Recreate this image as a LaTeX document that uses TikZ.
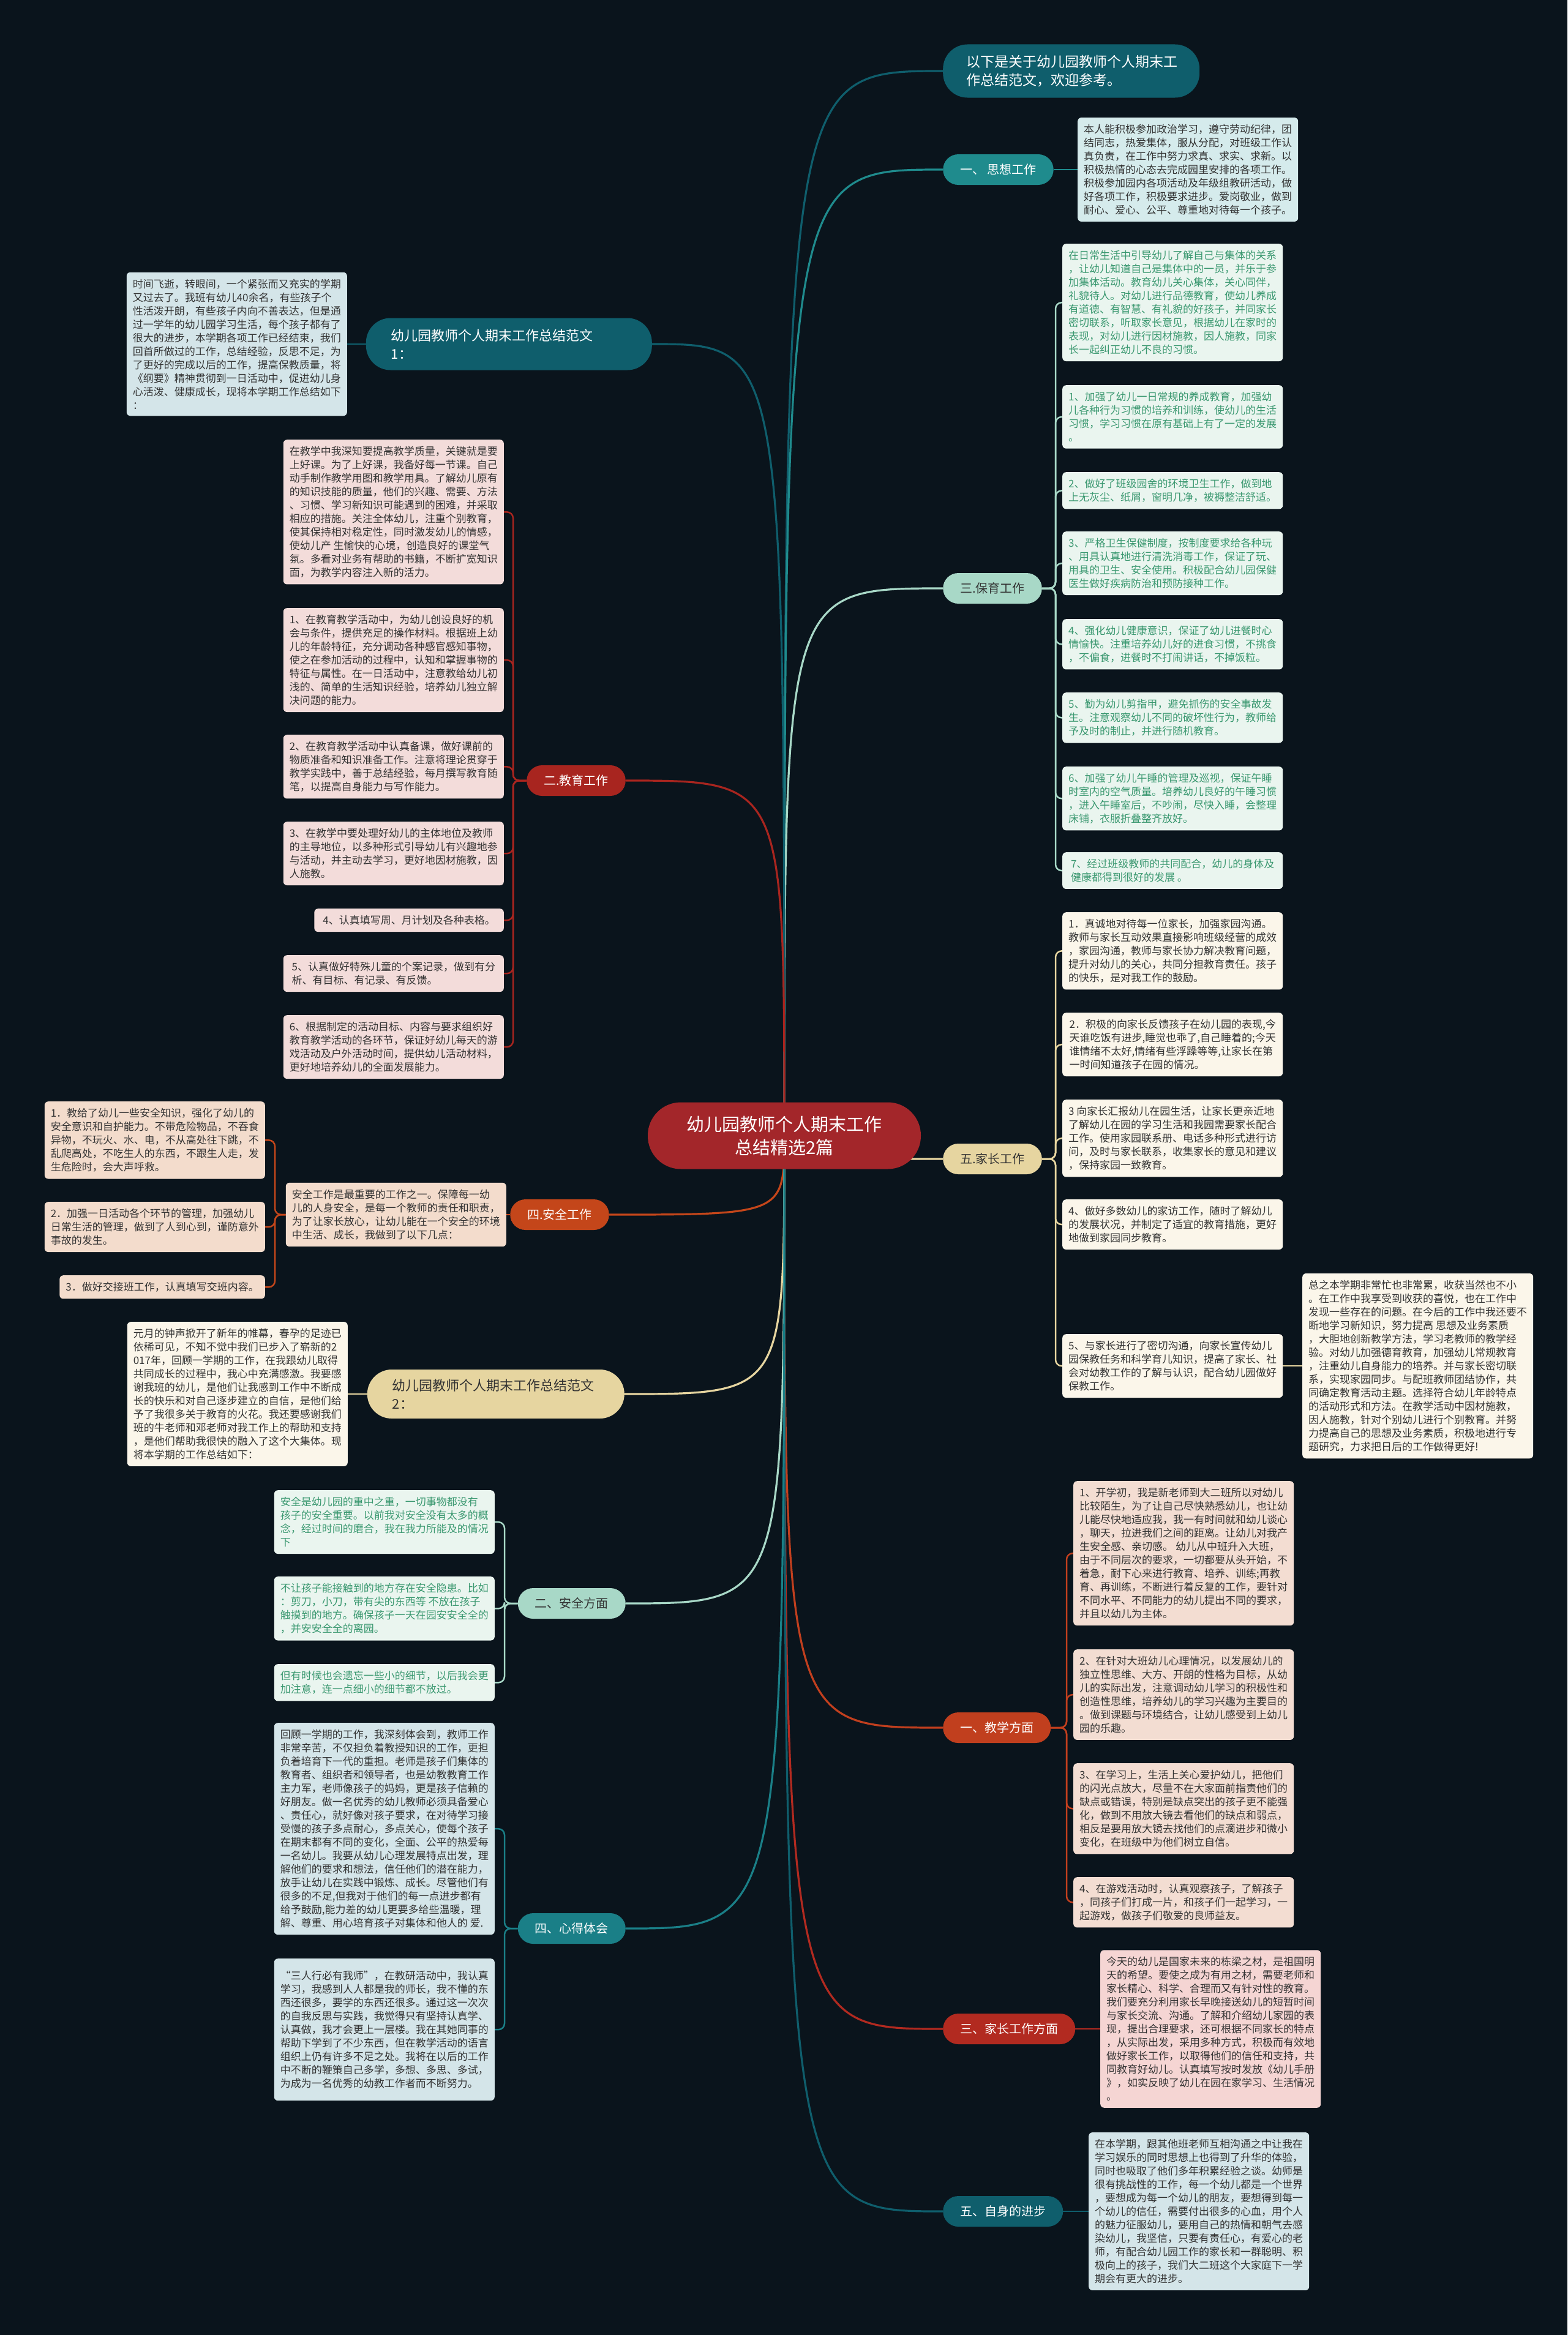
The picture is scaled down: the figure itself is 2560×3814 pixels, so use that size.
\documentclass[tikz,border=0pt]{standalone}
\usepackage{fontspec}
\setmainfont{Noto Sans CJK SC}
\definecolor{bgc}{HTML}{0A141C}
\definecolor{cRoot}{HTML}{A3262A}
\definecolor{cHead}{HTML}{0F5E6C}
\definecolor{cSx}{HTML}{1F8B8D}
\definecolor{cMint}{HTML}{A8D8C7}
\definecolor{cKhaki}{HTML}{E6D5A0}
\definecolor{cJx}{HTML}{C13F1E}
\definecolor{cJzf}{HTML}{B22A20}
\definecolor{cJy}{HTML}{A8251F}
\definecolor{cAq}{HTML}{C4461A}
\definecolor{cXd}{HTML}{1A7F87}
\definecolor{fSx}{HTML}{D5EBEC}
\definecolor{fBao}{HTML}{EAF5EF}
\definecolor{tBao}{HTML}{3A9870}
\definecolor{fCream}{HTML}{FBF6EA}
\definecolor{fPeach}{HTML}{F3DDD2}
\definecolor{fPink}{HTML}{F5D5D3}
\definecolor{fBlue}{HTML}{D4E5E9}
\definecolor{fRose}{HTML}{F3DCDA}
\definecolor{fSand}{HTML}{F3DCCC}
\definecolor{tDark}{HTML}{333333}
\pgfdeclarelayer{back}
\pgfdeclarelayer{lines}
\pgfsetlayers{back,lines,main}
\tikzset{
  leaf/.style={rounded corners=6, align=left, inner xsep=10, inner ysep=11,
    font=\fontsize{17}{22}\selectfont, text=tDark},
  full/.style={minimum width=360},
  branch/.style={rounded corners=25, minimum height=50, inner xsep=28,
    font=\fontsize{20}{24}\selectfont},
  bigpill/.style={rounded corners=40, align=left, inner xsep=40,
    font=\fontsize{22}{30}\selectfont},
  mainline/.style={line width=3.2},
  subline/.style={line width=2.5, rounded corners=10},
}
\begin{document}
\begin{tikzpicture}[x=1pt,y=-1pt]
\begin{pgfonlayer}{back}
\fill[bgc] (0,0) rectangle (2560,3814);
\end{pgfonlayer}
\useasboundingbox (0,0) rectangle (2560,3814);

% ---------- root ----------
\node[fill=cRoot, text=white, rounded corners=54, minimum width=446, minimum height=109,
  align=center, font=\fontsize{29}{38}\selectfont] (root) at (1281,1855)
  {幼儿园教师个人期末工作\\总结精选2篇};

% ---------- right branches ----------
\node[bigpill, fill=cHead, text=white, anchor=west, minimum height=87, text width=343,
  font=\fontsize{23}{30}\selectfont, inner xsep=38] (head) at (1540,116)
  {以下是关于幼儿园教师个人期末工\\作总结范文，欢迎参考。};
\node[branch, fill=cSx, text=white, anchor=west] (sx) at (1540,277) {一、 思想工作};
\node[branch, fill=cMint, text=tDark, anchor=west] (bao) at (1540,961) {三.保育工作};
\node[branch, fill=cKhaki, text=tDark, anchor=west] (jia) at (1540,1893) {五.家长工作};
\node[branch, fill=cJx, text=white, anchor=west] (jx) at (1540,2822) {一、教学方面};
\node[branch, fill=cJzf, text=white, anchor=west] (jzf) at (1540,3314) {三、家长工作方面};
\node[branch, fill=cHead, text=white, anchor=west] (zs) at (1540,3612) {五、自身的进步};

% ---------- left branches ----------
\node[bigpill, fill=cHead, text=white, anchor=east, minimum height=85, text width=385, inner xsep=41] (f1) at (1065,562)
  {幼儿园教师个人期末工作总结范文\\1：};
\node[branch, fill=cJy, text=white, anchor=east] (jy) at (1022,1275) {二.教育工作};
\node[branch, fill=cAq, text=white, anchor=east] (aq) at (995,1984) {四.安全工作};
\node[bigpill, fill=cKhaki, text=tDark, anchor=east, minimum height=80, text width=338, inner xsep=41] (f2) at (1020,2277)
  {幼儿园教师个人期末工作总结范文\\2：};
\node[branch, fill=cMint, text=tDark, anchor=east] (aqf) at (1022,2619) {二、安全方面};
\node[branch, fill=cXd, text=white, anchor=east] (xd) at (1022,3150) {四、心得体会};

% ---------- 思想工作 ----------
\node[leaf, full, fill=fSx, anchor=west] (sxb) at (1760,277)
{本人能积极参加政治学习，遵守劳动纪律，团\\结同志，热爱集体，服从分配，对班级工作认\\真负责，在工作中努力求真、求实、求新。以\\积极热情的心态去完成园里安排的各项工作。\\积极参加园内各项活动及年级组教研活动，做\\好各项工作，积极要求进步。爱岗敬业，做到\\耐心、爱心、公平、尊重地对待每一个孩子。};

% ---------- 保育工作 ----------
\tikzset{baoleaf/.style={leaf, full, fill=fBao, text=tBao, anchor=north west}}
\node[baoleaf] (b0) at (1735,398)
{在日常生活中引导幼儿了解自己与集体的关系\\，让幼儿知道自己是集体中的一员，并乐于参\\加集体活动。教育幼儿关心集体，关心同伴，\\礼貌待人。对幼儿进行品德教育，使幼儿养成\\有道德、有智慧、有礼貌的好孩子，并同家长\\密切联系，听取家长意见，根据幼儿在家时的\\表现，对幼儿进行因材施教，因人施教，同家\\长一起纠正幼儿不良的习惯。};
\node[baoleaf] (b1) at (1735,629)
{1、加强了幼儿一日常规的养成教育，加强幼\\儿各种行为习惯的培养和训练，使幼儿的生活\\习惯，学习习惯在原有基础上有了一定的发展\\。};
\node[baoleaf] (b2) at (1735,771)
{2、做好了班级园舍的环境卫生工作，做到地\\上无灰尘、纸屑，窗明几净，被褥整洁舒适。};
\node[baoleaf] (b3) at (1735,868)
{3、严格卫生保健制度，按制度要求给各种玩\\、用具认真地进行清洗消毒工作，保证了玩、\\用具的卫生、安全使用。积极配合幼儿园保健\\医生做好疾病防治和预防接种工作。};
\node[baoleaf] (b4) at (1735,1011)
{4、强化幼儿健康意识，保证了幼儿进餐时心\\情愉快。注重培养幼儿好的进食习惯，不挑食\\，不偏食，进餐时不打闹讲话，不掉饭粒。};
\node[baoleaf] (b5) at (1735,1131)
{5、勤为幼儿剪指甲，避免抓伤的安全事故发\\生。注意观察幼儿不同的破坏性行为，教师给\\予及时的制止，并进行随机教育。};
\node[baoleaf] (b6) at (1735,1252)
{6、加强了幼儿午睡的管理及巡视，保证午睡\\时室内的空气质量。培养幼儿良好的午睡习惯\\，进入午睡室后，不吵闹，尽快入睡，会整理\\床铺，衣服折叠整齐放好。};
\node[baoleaf] (b7) at (1735,1392)
{7、经过班级教师的共同配合，幼儿的身体及\\健康都得到很好的发展 。};

% ---------- 家长工作 ----------
\tikzset{jialeaf/.style={leaf, full, fill=fCream, anchor=north west}}
\node[jialeaf] (j1) at (1735,1490)
{1．真诚地对待每一位家长，加强家园沟通。\\教师与家长互动效果直接影响班级经营的成效\\，家园沟通，教师与家长协力解决教育问题，\\提升对幼儿的关心，共同分担教育责任。孩子\\的快乐，是对我工作的鼓励。};
\node[jialeaf] (j2) at (1735,1654)
{2．积极的向家长反馈孩子在幼儿园的表现,今\\天谁吃饭有进步,睡觉也乖了,自己睡着的;今天\\谁情绪不太好,情绪有些浮躁等等,让家长在第\\一时间知道孩子在园的情况。};
\node[jialeaf] (j3) at (1735,1796)
{3 向家长汇报幼儿在园生活，让家长更亲近地\\了解幼儿在园的学习生活和我园需要家长配合\\工作。使用家园联系册、电话多种形式进行访\\问，及时与家长联系，收集家长的意见和建议\\，保持家园一致教育。};
\node[jialeaf] (j4) at (1735,1959)
{4、做好多数幼儿的家访工作，随时了解幼儿\\的发展状况，并制定了适宜的教育措施，更好\\地做到家园同步教育。};
\node[jialeaf] (j5) at (1735,2179)
{5、与家长进行了密切沟通，向家长宣传幼儿\\园保教任务和科学育儿知识，提高了家长、社\\会对幼教工作的了解与认识，配合幼儿园做好\\保教工作。};
\coordinate (zx) at (2127,0);
\node[leaf, full, fill=fCream, anchor=west] (zz) at (j5.east -| zx)
{总之本学期非常忙也非常累，收获当然也不小\\。在工作中我享受到收获的喜悦，也在工作中\\发现一些存在的问题。在今后的工作中我还要不\\断地学习新知识，努力提高 思想及业务素质\\，大胆地创新教学方法，学习老教师的教学经\\验。对幼儿加强德育教育，加强幼儿常规教育\\，注重幼儿自身能力的培养。并与家长密切联\\系，实现家园同步。与配班教师团结协作，共\\同确定教育活动主题。选择符合幼儿年龄特点\\的活动形式和方法。在教学活动中因材施教，\\因人施教，针对个别幼儿进行个别教育。并努\\力提高自己的思想及业务素质，积极地进行专\\题研究，力求把日后的工作做得更好!};

% ---------- 教学方面 ----------
\tikzset{jxleaf/.style={leaf, full, fill=fPeach, anchor=north west}}
\node[jxleaf] (x1) at (1753,2419)
{1、开学初，我是新老师到大二班所以对幼儿\\比较陌生，为了让自己尽快熟悉幼儿，也让幼\\儿能尽快地适应我，我一有时间就和幼儿谈心\\，聊天，拉进我们之间的距离。让幼儿对我产\\生安全感、亲切感。 幼儿从中班升入大班，\\由于不同层次的要求，一切都要从头开始，不\\着急，耐下心来进行教育、培养、训练;再教\\育、再训练，不断进行着反复的工作，要针对\\不同水平、不同能力的幼儿提出不同的要求，\\并且以幼儿为主体。};
\node[jxleaf] (x2) at (1753,2694)
{2、在针对大班幼儿心理情况，以发展幼儿的\\独立性思维、大方、开朗的性格为目标，从幼\\儿的实际出发，注意调动幼儿学习的积极性和\\创造性思维，培养幼儿的学习兴趣为主要目的\\。做到课题与环境结合，让幼儿感受到上幼儿\\园的乐趣。};
\node[jxleaf] (x3) at (1753,2880)
{3、在学习上，生活上关心爱护幼儿，把他们\\的闪光点放大，尽量不在大家面前指责他们的\\缺点或错误，特别是缺点突出的孩子更不能强\\化，做到不用放大镜去看他们的缺点和弱点，\\相反是要用放大镜去找他们的点滴进步和微小\\变化，在班级中为他们树立自信。};
\node[jxleaf] (x4) at (1753,3066)
{4、在游戏活动时，认真观察孩子，了解孩子\\，同孩子们打成一片，和孩子们一起学习，一\\起游戏，做孩子们敬爱的良师益友。};

% ---------- 家长工作方面 ----------
\node[leaf, full, fill=fPink, anchor=west] (jzfb) at (1797,3314)
{今天的幼儿是国家未来的栋梁之材，是祖国明\\天的希望。要使之成为有用之材，需要老师和\\家长精心、科学、合理而又有针对性的教育。\\我们要充分利用家长早晚接送幼儿的短暂时间\\与家长交流、沟通。了解和介绍幼儿家园的表\\现，提出合理要求，还可根据不同家长的特点\\，从实际出发，采用多种方式，积极而有效地\\做好家长工作，以取得他们的信任和支持，共\\同教育好幼儿。认真填写按时发放《幼儿手册\\》，如实反映了幼儿在园在家学习、生活情况\\。};

% ---------- 自身的进步 ----------
\node[leaf, full, fill=fBlue, anchor=west] (zsb) at (1778,3612)
{在本学期，跟其他班老师互相沟通之中让我在\\学习娱乐的同时思想上也得到了升华的体验，\\同时也吸取了他们多年积累经验之谈。幼师是\\很有挑战性的工作，每一个幼儿都是一个世界\\，要想成为每一个幼儿的朋友，要想得到每一\\个幼儿的信任，需要付出很多的心血，用个人\\的魅力征服幼儿，要用自己的热情和朝气去感\\染幼儿，我坚信，只要有责任心，有爱心的老\\师，有配合幼儿园工作的家长和一群聪明、积\\极向上的孩子，我们大二班这个大家庭下一学\\期会有更大的进步。};

% ---------- 范文1 ----------
\node[leaf, full, fill=fBlue, anchor=east] (f1b) at (567,562)
{时间飞逝，转眼间，一个紧张而又充实的学期\\又过去了。我班有幼儿40余名，有些孩子个\\性活泼开朗，有些孩子内向不善表达，但是通\\过一学年的幼儿园学习生活，每个孩子都有了\\很大的进步，本学期各项工作已经结束，我们\\回首所做过的工作，总结经验，反思不足，为\\了更好的完成以后的工作，提高保教质量，将\\《纲要》精神贯彻到一日活动中，促进幼儿身\\心活泼、健康成长，现将本学期工作总结如下\\：};

% ---------- 教育工作 ----------
\tikzset{jyleaf/.style={leaf, full, fill=fRose, anchor=north east}}
\node[jyleaf] (y0) at (823,718)
{在教学中我深知要提高教学质量，关键就是要\\上好课。为了上好课，我备好每一节课。自己\\动手制作教学用图和教学用具。了解幼儿原有\\的知识技能的质量，他们的兴趣、需要、方法\\、习惯、学习新知识可能遇到的困难，并采取\\相应的措施。关注全体幼儿，注重个别教育，\\使其保持相对稳定性，同时激发幼儿的情感，\\使幼儿产 生愉快的心境，创造良好的课堂气\\氛。多看对业务有帮助的书籍，不断扩宽知识\\面，为教学内容注入新的活力。};
\node[jyleaf] (y1) at (823,993)
{1、在教育教学活动中，为幼儿创设良好的机\\会与条件，提供充足的操作材料。根据班上幼\\儿的年龄特征，充分调动各种感官感知事物，\\使之在参加活动的过程中，认知和掌握事物的\\特征与属性。在一日活动中，注意教给幼儿初\\浅的、简单的生活知识经验，培养幼儿独立解\\决问题的能力。};
\node[jyleaf] (y2) at (823,1200)
{2、在教育教学活动中认真备课，做好课前的\\物质准备和知识准备工作。注意将理论贯穿于\\教学实践中，善于总结经验，每月撰写教育随\\笔，以提高自身能力与写作能力。};
\node[jyleaf] (y3) at (823,1342)
{3、在教学中要处理好幼儿的主体地位及教师\\的主导地位，以多种形式引导幼儿有兴趣地参\\与活动，并主动去学习，更好地因材施教，因\\人施教。};
\node[leaf, fill=fRose, anchor=north east, inner xsep=14] (y4) at (823,1484)
{4、认真填写周、月计划及各种表格。};
\node[jyleaf] (y5) at (823,1560)
{5、认真做好特殊儿童的个案记录，做到有分\\析、有目标、有记录、有反馈。};
\node[jyleaf] (y6) at (823,1658)
{6、根据制定的活动目标、内容与要求组织好\\教育教学活动的各环节，保证好幼儿每天的游\\戏活动及户外活动时间，提供幼儿活动材料，\\更好地培养幼儿的全面发展能力。};

% ---------- 安全工作 ----------
\node[leaf, full, fill=fSand, anchor=east] (aqi) at (827,1984)
{安全工作是最重要的工作之一。保障每一幼\\儿的人身安全，是每一个教师的责任和职责，\\为了让家长放心，让幼儿能在一个安全的环境\\中生活、成长，我做到了以下几点：};
\node[leaf, full, fill=fSand, anchor=north east] (a1) at (433,1799)
{1．教给了幼儿一些安全知识，强化了幼儿的\\安全意识和自护能力。不带危险物品，不吞食\\异物，不玩火、水、电，不从高处往下跳，不\\乱爬高处，不吃生人的东西，不跟生人走，发\\生危险时，会大声呼救。};
\node[leaf, full, fill=fSand, anchor=north east] (a2) at (433,1963)
{2．加强一日活动各个环节的管理，加强幼儿\\日常生活的管理，做到了人到心到，谨防意外\\事故的发生。};
\node[leaf, fill=fSand, anchor=north east] (a3) at (433,2083)
{3．做好交接班工作，认真填写交班内容。};

% ---------- 范文2 ----------
\node[leaf, full, fill=fCream, anchor=east] (f2b) at (568,2277)
{元月的钟声掀开了新年的帷幕，春孕的足迹已\\依稀可见，不知不觉中我们已步入了崭新的2\\017年，回顾一学期的工作，在我跟幼儿取得\\共同成长的过程中，我心中充满感激。我要感\\谢我班的幼儿，是他们让我感到工作中不断成\\长的快乐和对自己逐步建立的自信，是他们给\\予了我很多关于教育的火花。我还要感谢我们\\班的牛老师和邓老师对我工作上的帮助和支持\\，是他们帮助我很快的融入了这个大集体。现\\将本学期的工作总结如下：};

% ---------- 安全方面 ----------
\tikzset{aqfleaf/.style={leaf, full, fill=fBao, text=tBao, anchor=north east}}
\node[aqfleaf] (s1) at (808,2434)
{安全是幼儿园的重中之重，一切事物都没有\\孩子的安全重要。以前我对安全没有太多的概\\念，经过时间的磨合，我在我力所能及的情况\\下};
\node[aqfleaf] (s2) at (808,2575)
{不让孩子能接触到的地方存在安全隐患。比如\\：剪刀，小刀，带有尖的东西等 不放在孩子\\触摸到的地方。确保孩子一天在园安安全全的\\，并安安全全的离园。};
\node[aqfleaf] (s3) at (808,2718)
{但有时候也会遗忘一些小的细节，以后我会更\\加注意，连一点细小的细节都不放过。};

% ---------- 心得体会 ----------
\tikzset{xdleaf/.style={leaf, full, fill=fBlue, anchor=north east}}
\node[xdleaf] (d1) at (808,2814)
{回顾一学期的工作，我深刻体会到，教师工作\\非常辛苦，不仅担负着教授知识的工作，更担\\负着培育下一代的重担。老师是孩子们集体的\\教育者、组织者和领导者，也是幼教教育工作\\主力军，老师像孩子的妈妈，更是孩子信赖的\\好朋友。做一名优秀的幼儿教师必须具备爱心\\、责任心，就好像对孩子要求，在对待学习接\\受慢的孩子多点耐心，多点关心，使每个孩子\\在期末都有不同的变化，全面、公平的热爱每\\一名幼儿。我要从幼儿心理发展特点出发，理\\解他们的要求和想法，信任他们的潜在能力，\\放手让幼儿在实践中锻炼、成长。尽管他们有\\很多的不足,但我对于他们的每一点进步都有\\给予鼓励,能力差的幼儿更要多给些温暖，理\\解、尊重、用心培育孩子对集体和他人的 爱.};
\node[xdleaf, inner ysep=20] (d2) at (808,3199)
{“三人行必有我师”，在教研活动中，我认真\\学习，我感到人人都是我的师长，我不懂的东\\西还很多，要学的东西还很多。通过这一次次\\的自我反思与实践，我觉得只有坚持认真学、\\认真做，我才会更上一层楼。我在其她同事的\\帮助下学到了不少东西，但在教学活动的语言\\组织上仍有许多不足之处。我将在以后的工作\\中不断的鞭策自己多学，多想、多思、多试，\\为成为一名优秀的幼教工作者而不断努力。};

% ---------- connectors ----------
\coordinate (spB) at (1724,0);
\coordinate (spJ) at (1724,0);
\coordinate (spX) at (1742,0);
\coordinate (spY) at (838,0);
\coordinate (spA) at (449,0);
\coordinate (spS) at (824,0);
\begin{pgfonlayer}{lines}
\draw[mainline, cHead] (root.center) .. controls (root.center |- head.west) .. (head.west);
\draw[mainline, cSx] (root.center) .. controls (root.center |- sx.west) .. (sx.west);
\draw[mainline, cMint] (root.center) .. controls (root.center |- bao.west) .. (bao.west);
\draw[mainline, cKhaki] (root.center) .. controls (root.center |- jia.west) .. (jia.west);
\draw[mainline, cJx] (root.center) .. controls (root.center |- jx.west) .. (jx.west);
\draw[mainline, cJzf] (root.center) .. controls (root.center |- jzf.west) .. (jzf.west);
\draw[mainline, cHead] (root.center) .. controls (root.center |- zs.west) .. (zs.west);
\draw[mainline, cHead] (root.center) .. controls (root.center |- f1.east) .. (f1.east);
\draw[mainline, cJy] (root.center) .. controls (root.center |- jy.east) .. (jy.east);
\draw[mainline, cAq] (root.center) .. controls (root.center |- aq.east) .. (aq.east);
\draw[mainline, cKhaki] (root.center) .. controls (root.center |- f2.east) .. (f2.east);
\draw[mainline, cMint] (root.center) .. controls (root.center |- aqf.east) .. (aqf.east);
\draw[mainline, cXd] (root.center) .. controls (root.center |- xd.east) .. (xd.east);
% single children
\draw[subline, cSx] (sx.east) -- (sxb.west);
\draw[subline, cKhaki] (j5.east) -- (zz.west);
\draw[subline, cJzf] (jzf.east) -- (jzfb.west);
\draw[subline, cHead] (zs.east) -- (zsb.west);
\draw[subline, cHead] (f1.west) -- (f1b.east);
\draw[subline, cAq] (aq.west) -- (aqi.east);
\draw[subline, cKhaki] (f2.west) -- (f2b.east);
% spines
\foreach \n in {b0,b1,b2,b3,b4,b5,b6,b7}
  \draw[subline, cMint] (bao.east) -- (bao.east -| spB) |- (\n.west);
\foreach \n in {j1,j2,j3,j4,j5}
  \draw[subline, cKhaki] (jia.east) -- (jia.east -| spJ) |- (\n.west);
\foreach \n in {x1,x2,x3,x4}
  \draw[subline, cJx] (jx.east) -- (jx.east -| spX) |- (\n.west);
\foreach \n in {y0,y1,y2,y3,y4,y5,y6}
  \draw[subline, cJy] (jy.west) -- (jy.west -| spY) |- (\n.east);
\foreach \n in {a1,a2,a3}
  \draw[subline, cAq] (aqi.west) -- (aqi.west -| spA) |- (\n.east);
\foreach \n in {s1,s2,s3}
  \draw[subline, cMint] (aqf.west) -- (aqf.west -| spS) |- (\n.east);
\foreach \n in {d1,d2}
  \draw[subline, cXd] (xd.west) -- (xd.west -| spS) |- (\n.east);
\end{pgfonlayer}
\end{tikzpicture}
\end{document}
